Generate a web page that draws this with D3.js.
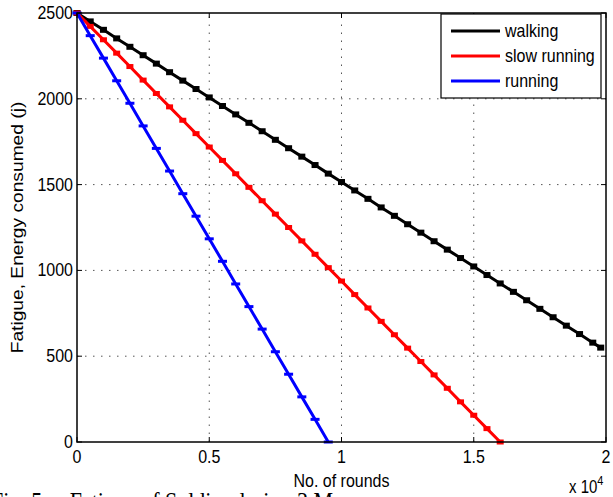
<!DOCTYPE html>
<html>
<head>
<meta charset="utf-8">
<script src="https://cdn.jsdelivr.net/npm/d3@7"></script>
<style>
  body { margin: 0; background: #fff; }
  svg { display: block; }
  text { font-family: "Liberation Sans", Arial, sans-serif; fill: #000; }
  text.caption { font-family: "Liberation Serif", "Times New Roman", serif; }
  .grid line { stroke: #555; stroke-width: 1; stroke-dasharray: 1.5 6.5; }
</style>
</head>
<body>
<div id="chart"></div>
<script>
// values (rounds, fatigue)
const walkRounds = [0, 500, 1000, 1500, 2000, 2500, 3000, 3500, 4000, 4500, 5000, 5500, 6000, 6500, 7000, 7500, 8000, 8500, 9000, 9500, 10000, 10500, 11000, 11500, 12000, 12500, 13000, 13500, 14000, 14500, 15000, 15500, 16000, 16500, 17000, 17500, 18000, 18500, 19000, 19500, 19800];
const walkEnergy = [2500, 2451, 2402, 2352, 2303, 2254, 2205, 2155, 2106, 2057, 2008, 1958, 1909, 1860, 1811, 1761, 1712, 1663, 1614, 1564, 1515, 1466, 1417, 1367, 1318, 1269, 1220, 1170, 1121, 1072, 1023, 973, 924, 875, 826, 776, 727, 678, 629, 579, 550];

const slowRounds = [0, 500, 1000, 1500, 2000, 2500, 3000, 3500, 4000, 4500, 5000, 5500, 6000, 6500, 7000, 7500, 8000, 8500, 9000, 9500, 10000, 10500, 11000, 11500, 12000, 12500, 13000, 13500, 14000, 14500, 15000, 15500, 16000];
const slowEnergy = [2500, 2422, 2344, 2266, 2188, 2109, 2031, 1953, 1875, 1797, 1719, 1641, 1563, 1484, 1406, 1328, 1250, 1172, 1094, 1016, 938, 859, 781, 703, 625, 547, 469, 391, 313, 234, 156, 78, 0];

const runRounds = [0, 500, 1000, 1500, 2000, 2500, 3000, 3500, 4000, 4500, 5000, 5500, 6000, 6500, 7000, 7500, 8000, 8500, 9000, 9500];
const runEnergy = [2500, 2368, 2237, 2105, 1974, 1842, 1711, 1579, 1447, 1316, 1184, 1053, 921, 789, 658, 526, 395, 263, 132, 0];

const seriesNames = ["walking", "slow running", "running"];
const seriesColors = ["#000000", "#ff0000", "#0000ff"];

const xTicks = [0, 5000, 10000, 15000, 20000];
const xTickLabels = ["0", "0.5", "1", "1.5", "2"];
const yTicks = [0, 500, 1000, 1500, 2000, 2500];

const W = 613, H = 497;
const margin = { left: 77, right: 7, top: 13, bottom: 55 };
const SY = 1.2; // text looks vertically stretched

const svg = d3.select("#chart").append("svg")
  .attr("width", W).attr("height", H);
svg.append("rect").attr("width", W).attr("height", H).attr("fill", "#fff");

const x = d3.scaleLinear().domain([0, 20000]).range([margin.left, W - margin.right]);
const y = d3.scaleLinear().domain([0, 2500]).range([H - margin.bottom, margin.top]);

const x0 = x.range()[0], x1 = x.range()[1];
const y0 = y.range()[0], y1 = y.range()[1];

// grid
const grid = svg.append("g").attr("class", "grid");
grid.selectAll("line.gx").data(xTicks.slice(1, -1)).join("line")
  .attr("x1", d => x(d)).attr("x2", d => x(d)).attr("y1", y0).attr("y2", y1);
grid.selectAll("line.gy").data(yTicks.slice(1, -1)).join("line")
  .attr("class", "gy")
  .attr("y1", d => y(d)).attr("y2", d => y(d)).attr("x1", x0).attr("x2", x1);

// series
const series = [
  { rounds: walkRounds, energy: walkEnergy, marker: [7, 6] },
  { rounds: slowRounds, energy: slowEnergy, marker: [7, 5] },
  { rounds: runRounds, energy: runEnergy, marker: [9, 3] },
];

const line = d3.line().x(d => x(d[0])).y(d => y(d[1]));

series.forEach((s, i) => {
  const pts = s.rounds.map((r, k) => [r, s.energy[k]]);
  const g = svg.append("g");
  g.append("path")
    .attr("d", line(pts))
    .attr("fill", "none")
    .attr("stroke", seriesColors[i])
    .attr("stroke-width", 3);
  g.selectAll("rect").data(pts).join("rect")
    .attr("x", d => x(d[0]) - s.marker[0] / 2)
    .attr("y", d => y(d[1]) - s.marker[1] / 2)
    .attr("width", s.marker[0])
    .attr("height", s.marker[1])
    .attr("fill", seriesColors[i]);
});

// axes box and ticks
svg.append("rect")
  .attr("x", x0).attr("y", y1)
  .attr("width", x1 - x0).attr("height", y0 - y1)
  .attr("fill", "none").attr("stroke", "#000").attr("stroke-width", 1.5);

const ticks = svg.append("g").attr("stroke", "#000").attr("stroke-width", 1);
xTicks.forEach(t => {
  ticks.append("line").attr("x1", x(t)).attr("x2", x(t)).attr("y1", y0).attr("y2", y0 - 5);
  ticks.append("line").attr("x1", x(t)).attr("x2", x(t)).attr("y1", y1).attr("y2", y1 + 5);
});
yTicks.forEach(t => {
  ticks.append("line").attr("y1", y(t)).attr("y2", y(t)).attr("x1", x0).attr("x2", x0 + 5);
  ticks.append("line").attr("y1", y(t)).attr("y2", y(t)).attr("x1", x1).attr("x2", x1 - 5);
});

function stretched(g, px, py) {
  return g.append("text").attr("transform", `translate(${px},${py}) scale(1,${SY})`);
}

xTicks.forEach((t, k) => {
  stretched(svg, x(t), y0 + 21).attr("text-anchor", "middle")
    .attr("font-size", 16).text(xTickLabels[k]);
});
yTicks.forEach(t => {
  stretched(svg, x0 - 4, y(t) + 6).attr("text-anchor", "end")
    .attr("font-size", 16).text(t);
});

stretched(svg, (x0 + x1) / 2, 487).attr("text-anchor", "middle")
  .attr("font-size", 16).text("No. of rounds");

const ex = stretched(svg, 569, 493).attr("font-size", 15);
ex.append("tspan").text("x 10");
ex.append("tspan").attr("dy", -7).attr("font-size", 11).text("4");

svg.append("text")
  .attr("transform", `translate(23,${(y0 + y1) / 2}) scale(1,${SY}) rotate(-90)`)
  .attr("text-anchor", "middle")
  .attr("font-size", 16)
  .text("Fatigue, Energy consumed (j)");

// legend
const leg = svg.append("g");
leg.append("rect")
  .attr("x", 441).attr("y", 14).attr("width", 160).attr("height", 84)
  .attr("fill", "#fff").attr("stroke", "#000").attr("stroke-width", 1.2);
seriesNames.forEach((n, i) => {
  const ly = 31 + i * 25;
  leg.append("line")
    .attr("x1", 451).attr("x2", 500).attr("y1", ly).attr("y2", ly)
    .attr("stroke", seriesColors[i]).attr("stroke-width", 3);
  stretched(leg, 505, ly + 6).attr("font-size", 16).text(n);
});

// caption of the source paper, cut by the crop as in the original
svg.append("text")
  .attr("class", "caption")
  .attr("transform", "translate(-9,510) scale(1,1.15)")
  .attr("font-size", 22)
  .attr("xml:space", "preserve")
  .text("Fig. 5.    Fatigue of Soldier during 3 M");
</script>
</body>
</html>
